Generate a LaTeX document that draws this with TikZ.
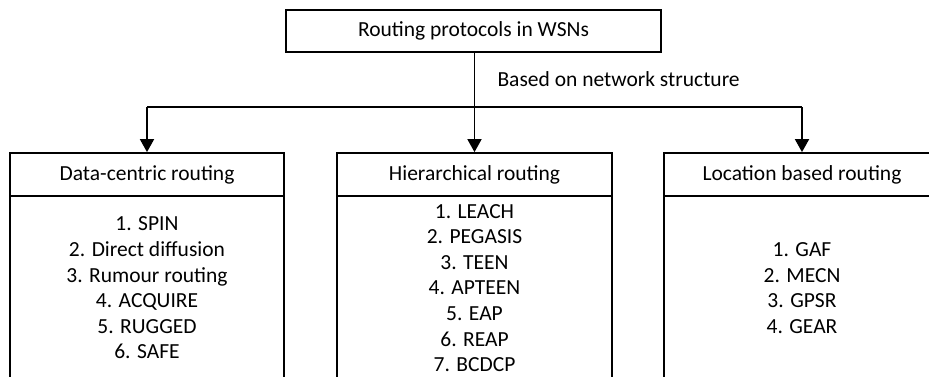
\documentclass[tikz,border=0pt]{standalone}
\usepackage{fontspec}
\setmainfont{Carlito}
\usetikzlibrary{arrows.meta}
\begin{document}
\begin{tikzpicture}[x=1pt,y=-1pt,
  every node/.style={font=\fontsize{21.5}{25.6}\selectfont},
  boxnode/.style={draw, line width=1.8pt, rectangle, inner sep=0pt, align=center},
  link/.style={line width=1.8pt},
  arr/.style={link, -{Triangle[width=14pt,length=13pt]}}]
\useasboundingbox (0,0) rectangle (929,376);
\fill[white] (0,0) rectangle (929,376);
\clip (0,0) rectangle (929,376);
\node[boxnode, minimum width=375pt, minimum height=42pt] (top) at (473.5,31) {Routing protocols in WSNs};
\node[anchor=west] (lbl) at (494,79) {Based on network structure};
\node[boxnode, minimum width=274pt, minimum height=43pt] (h1) at (147,174.5) {Data-centric routing};
\node[boxnode, minimum width=275pt, minimum height=43pt] (h2) at (474.5,174.5) {Hierarchical routing};
\node[boxnode, minimum width=276pt, minimum height=43pt] (h3) at (802,174.5) {Location based routing};
\node[boxnode, minimum width=274pt, minimum height=184pt] (b1) at (147,288) {1. SPIN\\2. Direct diffusion\\3. Rumour routing\\4. ACQUIRE\\5. RUGGED\\6. SAFE};
\node[boxnode, minimum width=275pt, minimum height=184pt] (b2) at (474.5,288) {1. LEACH\\2. PEGASIS\\3. TEEN\\4. APTEEN\\5. EAP\\6. REAP\\7. BCDCP};
\node[boxnode, minimum width=276pt, minimum height=184pt] (b3) at (802,288) {1. GAF\\2. MECN\\3. GPSR\\4. GEAR};
\coordinate (split) at (474.5,107);
\draw[link] (split -| h1.north) -- (split -| h3.north);
\draw[arr] (top.south -| h2.north) -- (h2.north);
\draw[arr] (split -| h1.north) -- (h1.north);
\draw[arr] (split -| h3.north) -- (h3.north);
\end{tikzpicture}
\end{document}
